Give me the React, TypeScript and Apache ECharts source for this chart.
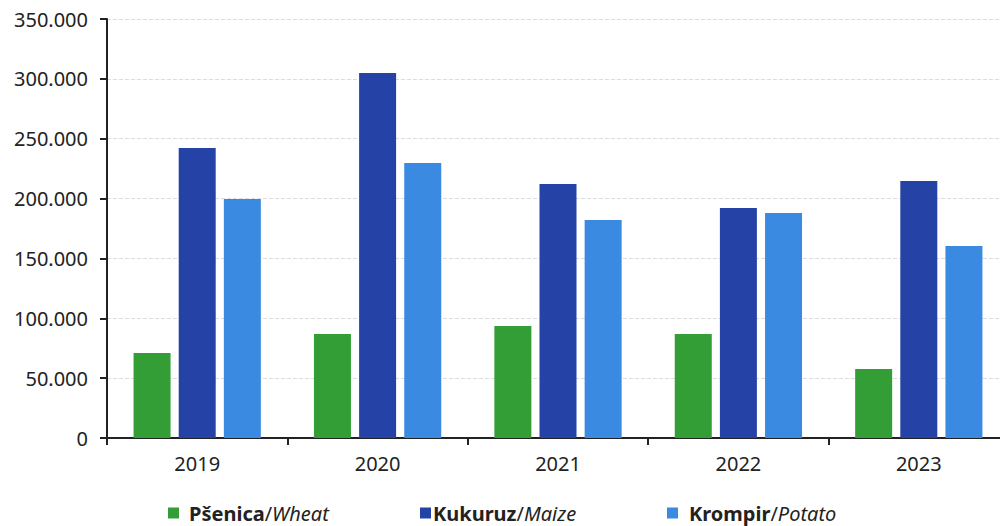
import React, { useEffect, useRef } from "react";
import * as echarts from "echarts";

const years = ["2019", "2020", "2021", "2022", "2023"];
const wheat = [71000, 86900, 93600, 86900, 57600];
const maize = [242300, 304900, 212200, 192100, 214700];
const potato = [199600, 229700, 182100, 187900, 160400];
const seriesNames = ["Pšenica/Wheat", "Kukuruz/Maize", "Krompir/Potato"];
const colors = ["#339e35", "#2543a6", "#3a8ae2"];

const FONT = "Noto Sans";

function fmt(v: number): string {
  if (v === 0) return "0";
  const s = Math.round(v).toString();
  return s.replace(/\B(?=(\d{3})+(?!\d))/g, ".");
}

function legendLabel(name: string): string {
  const [a, b] = name.split("/");
  return `{b|${a}}{s|/}{i|${b}}`;
}

export default function App() {
  const ref = useRef<HTMLDivElement>(null);
  useEffect(() => {
    document.body.style.overflow = "hidden";
    if (!ref.current) return;
    const chart = echarts.init(ref.current, undefined, { renderer: "svg" });
    const rich = {
      b: { fontWeight: "bold", fontSize: 20, fontFamily: FONT, color: "#222", lineHeight: 20 },
      s: { fontSize: 20, fontFamily: FONT, color: "#222", lineHeight: 20 },
      i: { fontStyle: "italic", fontSize: 20, fontFamily: FONT, color: "#222", lineHeight: 20 },
    };
    const legendLefts = [168, 420, 667];
    const pads = [5, -3, 6];
    chart.setOption({
      animation: false,
      textStyle: { fontFamily: FONT },
      grid: { left: 107, top: 19, width: 902, height: 419 },
      legend: seriesNames.map((n, i) => ({
        data: [n],
        left: legendLefts[i],
        top: 503,
        padding: 0,
        itemWidth: 11,
        itemHeight: 11,
        itemGap: 0,
        icon: "rect",
        formatter: legendLabel,
        textStyle: { rich, padding: [0, 0, 0, pads[i]] },
      })),
      xAxis: {
        type: "category",
        data: years,
        axisLine: { lineStyle: { color: "#222", width: 2 } },
        axisTick: { show: true, length: 7, lineStyle: { color: "#222", width: 2 } },
        axisLabel: { fontSize: 20, color: "#222", margin: 15, fontFamily: FONT },
      },
      yAxis: {
        type: "value",
        min: 0,
        max: 350000,
        interval: 50000,
        axisLine: { show: true, lineStyle: { color: "#222", width: 2 } },
        axisTick: { show: true, length: 7, lineStyle: { color: "#222", width: 2 } },
        axisLabel: { fontSize: 20, color: "#222", margin: 19, formatter: fmt, fontFamily: FONT },
        splitLine: { lineStyle: { color: "#dcdcdc", type: "dashed", width: 1 } },
      },
      series: [wheat, maize, potato].map((d, i) => ({
        name: seriesNames[i],
        type: "bar",
        data: d,
        barWidth: 37,
        barGap: "22%",
        itemStyle: { color: colors[i] },
      })),
    });
    return () => chart.dispose();
  }, []);
  return (
    <div
      ref={ref}
      style={{ position: "fixed", left: 0, top: 0, width: 1012, height: 526, background: "#fff" }}
    />
  );
}
